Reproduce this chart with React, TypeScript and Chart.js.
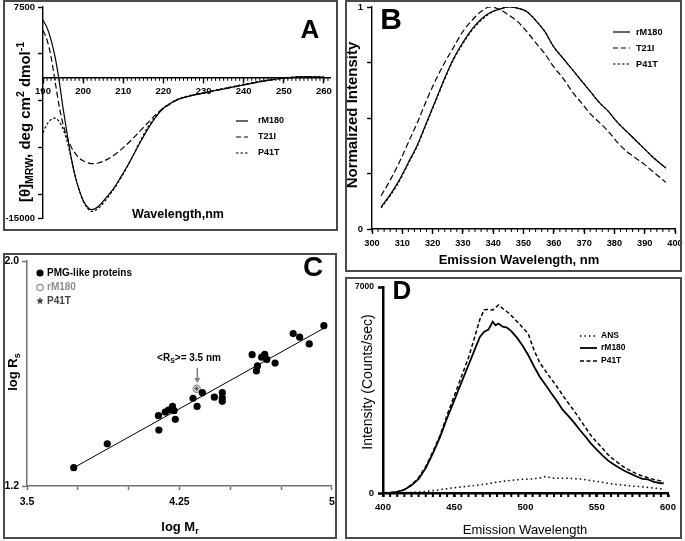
import React, { useEffect, useRef } from 'react';
import { Chart, registerables } from 'chart.js';

Chart.register(...registerables);

const FONT = '"Liberation Sans", Arial, Helvetica, sans-serif';

// ---------------- Panel A : CD spectra ----------------
const cdWavelength = [190, 191, 192, 193, 194, 195, 196, 197, 198, 199, 200, 201, 202, 203, 204, 205, 206, 207, 208, 209, 210, 212, 214, 216, 218, 220, 222, 224, 226, 228, 230, 233, 236, 240, 245, 250, 255, 260];
const cdRM180 = [6100, 5300, 4000, 2200, -300, -3300, -6000, -8500, -10500, -12000, -13100, -13800, -14100, -14000, -13700, -13200, -12700, -12200, -11600, -10900, -10200, -8700, -7100, -5600, -4300, -3300, -2700, -2300, -2050, -1850, -1700, -1400, -1150, -800, -400, -100, 50, 30];
const cdT21I = [5000, 4000, 2200, -400, -3000, -5000, -6400, -7400, -8100, -8600, -8900, -9100, -9200, -9200, -9100, -8950, -8750, -8500, -8200, -7850, -7500, -6700, -5800, -4900, -4000, -3300, -2750, -2300, -2050, -1850, -1700, -1400, -1150, -800, -400, -100, 40, 20];
const cdP41T = [-5900, -5000, -4500, -4350, -4700, -5500, -6800, -8600, -10500, -12000, -13200, -13900, -14300, -14200, -13900, -13400, -12900, -12300, -11700, -11000, -10300, -8700, -7000, -5400, -4200, -3250, -2700, -2250, -2000, -1820, -1650, -1350, -1100, -750, -350, -80, 80, 50];
const cdXTicks = [190, 200, 210, 220, 230, 240, 250, 260];
const cdXMinor = Array.from({ length: 72 }, (_, i) => 190 + i);
const cdYTicks = [7500, 2500, -2500, -7500, -12500, -15000];
const cdYLabels = [7500, -15000];

// ---------------- Panel B : Trp fluorescence ----------------
const flWavelength = [303, 306, 309, 312, 315, 318, 321, 324, 327, 330, 333, 336, 339, 342, 345, 348, 351, 354, 357, 360, 363, 366, 369, 372, 375, 378, 381, 384, 387, 390, 393, 397];
const flRM180 = [0.10, 0.155, 0.22, 0.30, 0.38, 0.48, 0.58, 0.68, 0.77, 0.84, 0.90, 0.945, 0.975, 0.99, 1.0, 0.995, 0.98, 0.94, 0.89, 0.82, 0.77, 0.72, 0.67, 0.62, 0.57, 0.53, 0.48, 0.44, 0.40, 0.36, 0.32, 0.275];
const flT21I = [0.15, 0.22, 0.30, 0.39, 0.48, 0.58, 0.67, 0.75, 0.82, 0.89, 0.94, 0.98, 1.0, 0.99, 0.965, 0.935, 0.89, 0.84, 0.79, 0.73, 0.68, 0.62, 0.57, 0.52, 0.48, 0.44, 0.39, 0.35, 0.32, 0.29, 0.255, 0.21];
const flP41T = [0.095, 0.15, 0.215, 0.295, 0.375, 0.475, 0.575, 0.675, 0.765, 0.835, 0.895, 0.94, 0.972, 0.99, 1.0, 0.995, 0.98, 0.94, 0.89, 0.82, 0.77, 0.72, 0.67, 0.62, 0.57, 0.53, 0.48, 0.44, 0.40, 0.36, 0.32, 0.275];
const flXTicks = [300, 310, 320, 330, 340, 350, 360, 370, 380, 390, 400];
const flXMinor = Array.from({ length: 51 }, (_, i) => 300 + i * 2);
const flYTicks = [0, 0.25, 0.5, 0.75, 1];
const flYLabels = [0, 1];

// ---------------- Panel C : log Rs vs log Mr ----------------
const pmgLogM = [3.730, 3.895, 4.149, 4.147, 4.180, 4.196, 4.216, 4.224, 4.230, 4.317, 4.337, 4.363, 4.422, 4.461, 4.461, 4.461, 4.608, 4.634, 4.629, 4.655, 4.670, 4.680, 4.721, 4.810, 4.842, 4.889, 4.961];
const pmgLogR = [1.265, 1.350, 1.399, 1.450, 1.463, 1.470, 1.483, 1.468, 1.437, 1.512, 1.483, 1.532, 1.516, 1.532, 1.513, 1.501, 1.667, 1.627, 1.609, 1.658, 1.668, 1.650, 1.637, 1.742, 1.729, 1.705, 1.770];
const rm180LogM = [4.335];
const rm180LogR = [1.546];
const p41tLogM = [4.335];
const p41tLogR = [1.546];
const fitLogM = [3.730, 4.961];
const fitLogR = [1.265, 1.761];
const cXTicks = [3.5, 3.75, 4.0, 4.25, 4.5, 4.75, 5.0];
const cXLabels = [3.5, 4.25, 5.0];
const cYTicks = [1.2, 2.0];

// ---------------- Panel D : ANS fluorescence ----------------
const ansWl = [400, 405, 410, 415, 420, 425, 430, 435, 440, 445, 450, 455, 460, 465, 468, 471, 474, 477, 479, 481, 484, 487, 490, 494, 498, 502, 506, 510, 514, 518, 522, 526, 530, 534, 538, 542, 546, 550, 554, 558, 562, 566, 570, 574, 578, 582, 586, 590, 594, 597];
const ansRM180 = [0, 10, 40, 110, 260, 480, 850, 1350, 1900, 2550, 3150, 3750, 4350, 4950, 5300, 5480, 5550, 5820, 5700, 5760, 5650, 5620, 5500, 5280, 5000, 4680, 4300, 3950, 3680, 3400, 3130, 2830, 2620, 2400, 2150, 1920, 1680, 1470, 1280, 1100, 970, 850, 740, 650, 560, 480, 460, 380, 340, 330];
const ansP41T = [0, 10, 40, 120, 280, 520, 900, 1400, 1950, 2650, 3300, 3950, 4600, 5400, 5900, 6230, 6240, 6220, 6300, 6390, 6270, 6160, 6030, 5830, 5620, 5400, 4850, 4430, 4150, 3880, 3620, 3330, 3060, 2800, 2520, 2230, 1950, 1730, 1520, 1300, 1130, 990, 850, 750, 650, 580, 520, 460, 420, 380];
const ansDyeWl = [400, 410, 420, 430, 440, 450, 460, 470, 480, 490, 500, 505, 510, 514, 518, 522, 530, 540, 546, 552, 558, 564, 570, 576, 582, 588, 594, 597];
const ansDye = [0, 5, 20, 50, 110, 180, 230, 290, 370, 430, 470, 480, 510, 560, 510, 500, 500, 470, 420, 380, 330, 290, 260, 230, 210, 180, 150, 140];
const dXTicks = [400, 450, 500, 550, 600];
const dXMinor = Array.from({ length: 41 }, (_, i) => 400 + i * 5);
const dYTicks = [0, 7000];

// ---------------- helpers ----------------
type Seg = { t: string; sc?: number; dy?: number };
type TextItem = { x: number; y: number; segs: Seg[]; size: number; weight?: string; color?: string; align?: 'left' | 'center' | 'right'; rot?: number };
type LegendItem = { x1: number; x2: number; y: number; dash?: number[]; lw?: number; marker?: 'dot' | 'ring' | 'star'; tx: number; text: string; tcolor?: string; size: number };

const S = (t: string, sc?: number, dy?: number): Seg => ({ t, sc, dy });
const pts = (xs: number[], ys: number[]) => xs.map((x, i) => ({ x, y: ys[i] }));
const tf = (size: number, weight = 'bold') => ({ family: FONT, size, weight });

function drawRich(ctx: CanvasRenderingContext2D, it: TextItem, ox: number, oy: number) {
  const w = it.weight || 'bold';
  let total = 0;
  const widths = it.segs.map((s) => {
    ctx.font = `${w} ${it.size * (s.sc || 1)}px ${FONT}`;
    const m = ctx.measureText(s.t).width;
    total += m;
    return m;
  });
  ctx.save();
  ctx.translate(it.x - ox, it.y - oy);
  if (it.rot) ctx.rotate(it.rot);
  let x = it.align === 'left' ? 0 : it.align === 'right' ? -total : -total / 2;
  ctx.fillStyle = it.color || '#000';
  ctx.textBaseline = 'middle';
  ctx.textAlign = 'left';
  it.segs.forEach((s, i) => {
    ctx.font = `${w} ${it.size * (s.sc || 1)}px ${FONT}`;
    ctx.fillText(s.t, x, (s.dy || 0) * it.size);
    x += widths[i];
  });
  ctx.restore();
}

function starPath(ctx: CanvasRenderingContext2D, cx: number, cy: number, r: number) {
  ctx.beginPath();
  for (let i = 0; i < 10; i++) {
    const a = -Math.PI / 2 + (i * Math.PI) / 5;
    const rr = i % 2 ? r * 0.45 : r;
    ctx.lineTo(cx + rr * Math.cos(a), cy + rr * Math.sin(a));
  }
  ctx.closePath();
}

const overlay = {
  id: 'overlay',
  afterDraw(chart: any, _a: any, o: any) {
    const ctx = chart.ctx as CanvasRenderingContext2D;
    const ox = o.ox || 0;
    const oy = o.oy || 0;
    (o.minor || []).forEach((m: any) => {
      const sc = chart.scales[m.scale];
      const base = m.atScale ? chart.scales[m.atScale].getPixelForValue(m.at) : chart.chartArea.bottom;
      ctx.save();
      ctx.strokeStyle = m.color;
      ctx.lineWidth = m.width;
      ctx.beginPath();
      m.values.forEach((v: number) => {
        const p = sc.getPixelForValue(v);
        ctx.moveTo(p, base);
        ctx.lineTo(p, base + m.len);
      });
      ctx.stroke();
      ctx.restore();
    });
    (o.arrows || []).forEach((a: any) => {
      const X = chart.scales[a.xs].getPixelForValue(a.x);
      const Y1 = chart.scales[a.ys].getPixelForValue(a.y1);
      const Y2 = chart.scales[a.ys].getPixelForValue(a.y2);
      ctx.save();
      ctx.strokeStyle = a.color;
      ctx.fillStyle = a.color;
      ctx.lineWidth = 1.5;
      ctx.beginPath();
      ctx.moveTo(X, Y1);
      ctx.lineTo(X, Y2 - 4);
      ctx.stroke();
      ctx.beginPath();
      ctx.moveTo(X - 3, Y2 - 5);
      ctx.lineTo(X + 3, Y2 - 5);
      ctx.lineTo(X, Y2);
      ctx.closePath();
      ctx.fill();
      ctx.restore();
    });
    (o.legend || []).forEach((l: LegendItem) => {
      ctx.save();
      const cy = l.y - oy;
      if (l.marker) {
        const cx = (l.x1 + l.x2) / 2 - ox;
        if (l.marker === 'dot') {
          ctx.fillStyle = '#000';
          ctx.beginPath();
          ctx.arc(cx, cy, 3.6, 0, Math.PI * 2);
          ctx.fill();
        } else if (l.marker === 'ring') {
          ctx.strokeStyle = '#8c8c8c';
          ctx.lineWidth = 1.2;
          ctx.beginPath();
          ctx.arc(cx, cy, 3.2, 0, Math.PI * 2);
          ctx.stroke();
        } else {
          ctx.fillStyle = '#444';
          starPath(ctx, cx, cy, 4);
          ctx.fill();
        }
      } else {
        ctx.strokeStyle = '#000';
        ctx.lineWidth = l.lw || 1.2;
        ctx.setLineDash(l.dash || []);
        ctx.beginPath();
        ctx.moveTo(l.x1 - ox, cy);
        ctx.lineTo(l.x2 - ox, cy);
        ctx.stroke();
      }
      ctx.restore();
      drawRich(ctx, { x: l.tx, y: l.y, segs: [S(l.text)], size: l.size, align: 'left', color: l.tcolor || '#000' }, ox, oy);
    });
    (o.texts || []).forEach((t: TextItem) => drawRich(ctx, t, ox, oy));
  },
};

const lineDs = (label: string, xs: number[], ys: number[], dash: number[], width: number, mode: string) => ({
  label,
  data: pts(xs, ys),
  showLine: true,
  borderColor: '#000',
  backgroundColor: '#000',
  borderWidth: width,
  borderDash: dash,
  pointRadius: 0,
  cubicInterpolationMode: mode,
  tension: 0,
  fill: false,
});

function baseOptions(pad: any, ov: any) {
  return {
    responsive: false,
    maintainAspectRatio: false,
    animation: false,
    events: [],
    layout: { padding: pad },
    plugins: { legend: { display: false }, tooltip: { enabled: false }, title: { display: false }, overlay: ov },
  };
}

function axis(o: any) {
  const { min, max, ticks, label, width, height, font, color, bw, tl, pad, position } = o;
  return {
    type: 'linear',
    position,
    min,
    max,
    afterBuildTicks: (s: any) => {
      s.ticks = ticks.map((v: number) => ({ value: v }));
    },
    afterFit: (s: any) => {
      if (width != null) s.width = width;
      if (height != null) s.height = height;
      s.paddingLeft = 0;
      s.paddingRight = 0;
      s.paddingTop = 0;
      s.paddingBottom = 0;
    },
    ticks: { autoSkip: false, maxRotation: 0, minRotation: 0, padding: pad, color: '#000', font, callback: label },
    grid: { drawOnChartArea: false, drawTicks: true, tickLength: tl, tickColor: color, tickWidth: bw },
    border: { display: true, color, width: bw },
  };
}

// ---------------- configs ----------------
function configA(): any {
  const ox = 3, oy = 0;
  return {
    type: 'scatter',
    data: {
      datasets: [
        lineDs('rM180', cdWavelength, cdRM180, [], 1.2, 'monotone'),
        lineDs('T21I', cdWavelength, cdT21I, [6, 3], 1.2, 'monotone'),
        lineDs('P41T', cdWavelength, cdP41T, [2.5, 2], 1.2, 'monotone'),
      ],
    },
    options: {
      ...baseOptions({ left: 0, top: 7, right: 8, bottom: 13 }, {
        ox, oy,
        minor: [{ scale: 'x', values: cdXMinor, len: 3.5, width: 1, color: '#000', atScale: 'y', at: 0 }],
        legend: [
          { x1: 236, x2: 248, y: 121, tx: 258, text: 'rM180', size: 9 },
          { x1: 236, x2: 248, y: 137, dash: [5, 3], tx: 258, text: 'T21I', size: 9 },
          { x1: 236, x2: 248, y: 153, dash: [2.5, 2], tx: 258, text: 'P41T', size: 9 },
        ],
        texts: [
          { x: 178, y: 215, segs: [S('Wavelength,nm')], size: 12.5 },
          { x: 26, y: 122, rot: -Math.PI / 2, size: 15, segs: [S('[θ]'), S('MRW', 0.7, 0.3), S(', deg cm'), S('2', 0.7, -0.35), S(' dmol'), S('-1', 0.7, -0.35)] },
          { x: 310, y: 31, segs: [S('A')], size: 26 },
        ],
      }),
      scales: {
        x: axis({ position: { y: 0 }, min: 190, max: 261.5, ticks: cdXTicks, label: (v: number) => String(v), font: tf(9.5), color: '#000', bw: 1.4, tl: 5, pad: 3 }),
        y: axis({ position: 'left', min: -15000, max: 7500, ticks: cdYTicks, label: (v: number) => (cdYLabels.includes(v) ? String(v) : ''), width: 40, font: tf(9.5), color: '#000', bw: 1.4, tl: 5, pad: 3 }),
      },
    },
    plugins: [overlay],
  };
}

function configB(): any {
  const ox = 345, oy = 0;
  return {
    type: 'scatter',
    data: {
      datasets: [
        lineDs('rM180', flWavelength, flRM180, [], 1.2, 'monotone'),
        lineDs('T21I', flWavelength, flT21I, [6, 3], 1.2, 'monotone'),
        lineDs('P41T', flWavelength, flP41T, [2.5, 2], 1.2, 'monotone'),
      ],
    },
    options: {
      ...baseOptions({ left: 0, top: 7, right: 9, bottom: 0 }, {
        ox, oy,
        minor: [{ scale: 'x', values: flXMinor, len: 3, width: 1, color: '#000' }],
        legend: [
          { x1: 613, x2: 630, y: 32, tx: 636, text: 'rM180', size: 9.2 },
          { x1: 613, x2: 630, y: 48, dash: [5, 3], tx: 636, text: 'T21I', size: 9.2 },
          { x1: 613, x2: 630, y: 64, dash: [2.5, 2], tx: 636, text: 'P41T', size: 9.2 },
        ],
        texts: [
          { x: 519, y: 260, segs: [S('Emission Wavelength, nm')], size: 13 },
          { x: 353, y: 115, rot: -Math.PI / 2, segs: [S('Normalized Intensity')], size: 15 },
          { x: 391, y: 21, segs: [S('B')], size: 30 },
        ],
      }),
      scales: {
        x: axis({ position: 'bottom', min: 300, max: 400, ticks: flXTicks, label: (v: number) => String(v), height: 43, font: tf(9.2), color: '#000', bw: 1.4, tl: 5, pad: 4 }),
        y: axis({ position: 'left', min: 0, max: 1, ticks: flYTicks, label: (v: number) => (flYLabels.includes(v) ? String(v) : ''), width: 27, font: tf(9.5), color: '#000', bw: 1.4, tl: 5, pad: 4 }),
      },
    },
    plugins: [overlay],
  };
}

function configC(): any {
  const ox = 3, oy = 253;
  return {
    type: 'scatter',
    data: {
      datasets: [
        { label: 'fit', data: pts(fitLogM, fitLogR), showLine: true, borderColor: '#000', borderWidth: 1, pointRadius: 0 },
        { label: 'PMG-like proteins', data: pts(pmgLogM, pmgLogR), showLine: false, pointRadius: 3.6, backgroundColor: '#000', borderColor: '#000', borderWidth: 0 },
        { label: 'rM180', data: pts(rm180LogM, rm180LogR), showLine: false, pointRadius: 3.6, pointStyle: 'circle', backgroundColor: 'rgba(255,255,255,0)', borderColor: '#8c8c8c', borderWidth: 1.2 },
        { label: 'P41T', data: pts(p41tLogM, p41tLogR), showLine: false, pointRadius: 2.6, pointStyle: 'star', backgroundColor: '#555', borderColor: '#555', borderWidth: 1 },
      ],
    },
    options: {
      ...baseOptions({ left: 0, top: 8, right: 4, bottom: 0 }, {
        ox, oy,
        arrows: [{ xs: 'x', ys: 'y', x: 4.338, y1: 1.62, y2: 1.566, color: '#808080' }],
        legend: [
          { x1: 40, x2: 40, y: 273, marker: 'dot', tx: 47, text: 'PMG-like proteins', size: 10 },
          { x1: 40, x2: 40, y: 287.5, marker: 'ring', tx: 47, text: 'rM180', size: 10, tcolor: '#8c8c8c' },
          { x1: 40, x2: 40, y: 301, marker: 'star', tx: 47, text: 'P41T', size: 10, tcolor: '#444' },
        ],
        texts: [
          { x: 180, y: 527, segs: [S('log M'), S('r', 0.7, 0.35)], size: 13 },
          { x: 13, y: 372, rot: -Math.PI / 2, segs: [S('log R'), S('s', 0.7, 0.35)], size: 13 },
          { x: 189, y: 358, segs: [S('<R'), S('S', 0.7, 0.35), S('>= 3.5 nm')], size: 10 },
          { x: 313, y: 268, segs: [S('C')], size: 28 },
        ],
      }),
      scales: {
        x: axis({ position: 'bottom', min: 3.5, max: 5, ticks: cXTicks, label: (v: number) => (cXLabels.includes(v) ? (v === 5 ? '5' : String(v)) : ''), height: 53, font: tf(10.5), color: '#707070', bw: 1.5, tl: 4, pad: 6 }),
        y: axis({ position: 'left', min: 1.2, max: 2.0, ticks: cYTicks, label: (v: number) => v.toFixed(1), width: 24, font: tf(10.5), color: '#707070', bw: 1.5, tl: 5, pad: 3 }),
      },
    },
    plugins: [overlay],
  };
}

function configD(): any {
  const ox = 345, oy = 277;
  return {
    type: 'scatter',
    data: {
      datasets: [
        lineDs('ANS', ansDyeWl, ansDye, [1.5, 3], 1.5, 'default'),
        lineDs('rM180', ansWl, ansRM180, [], 1.8, 'default'),
        lineDs('P41T', ansWl, ansP41T, [4, 2.5], 1.5, 'default'),
      ],
    },
    options: {
      ...baseOptions({ left: 0, top: 10, right: 14, bottom: 0 }, {
        ox, oy,
        minor: [{ scale: 'x', values: dXMinor, len: 4, width: 2, color: '#000' }],
        legend: [
          { x1: 580, x2: 597, y: 336, dash: [1.5, 3], lw: 1.5, tx: 601, text: 'ANS', size: 8.5 },
          { x1: 580, x2: 597, y: 348, lw: 1.8, tx: 601, text: 'rM180', size: 8.5 },
          { x1: 580, x2: 597, y: 361, dash: [4, 2.5], lw: 1.5, tx: 601, text: 'P41T', size: 8.5 },
        ],
        texts: [
          { x: 525, y: 530, segs: [S('Emission Wavelength')], size: 13, weight: 'normal' },
          { x: 368, y: 382, rot: -Math.PI / 2, segs: [S('Intensity (Counts/sec)')], size: 14, weight: 'normal' },
          { x: 402, y: 292, segs: [S('D')], size: 26 },
        ],
      }),
      scales: {
        x: axis({ position: 'bottom', min: 400, max: 600, ticks: dXTicks, label: (v: number) => String(v), height: 46, font: tf(9.5), color: '#000', bw: 2.5, tl: 4, pad: 5 }),
        y: {
          ...axis({ position: 'left', min: 0, max: 7000, ticks: dYTicks, label: (v: number) => String(v), width: 38, font: tf(9.5), color: '#000', bw: 2.5, tl: 5, pad: 4 }),
        },
      },
    },
    plugins: [overlay],
  };
}

// canvas (cw/ch) may be slightly larger than the bordered frame (w/h) so labels can touch the frame
const PANELS = [
  { key: 'A', left: 3, top: 0, w: 335, h: 231, cw: 335, make: configA },
  { key: 'B', left: 345, top: 0, w: 337, h: 272, cw: 339, make: configB },
  { key: 'C', left: 3, top: 253, w: 334, h: 286, cw: 334, make: configC },
  { key: 'D', left: 345, top: 277, w: 337, h: 262, cw: 337, make: configD },
];

export default function App() {
  const refs = useRef<(HTMLCanvasElement | null)[]>([]);
  useEffect(() => {
    document.body.style.margin = '0';
    const charts: Chart[] = [];
    PANELS.forEach((p, i) => {
      const c = refs.current[i];
      if (!c) return;
      const cfg = p.make();
      if (p.key === 'D') {
        cfg.options.scales.y.ticks.font = (ctx: any) => (ctx.tick && ctx.tick.value === 7000 ? tf(8.5) : tf(9.5));
      }
      charts.push(new Chart(c, cfg));
    });
    return () => charts.forEach((c) => c.destroy());
  }, []);
  return (
    <div style={{ position: 'absolute', left: 0, top: 0, width: 685, height: 541, background: '#fff', overflow: 'hidden' }}>
      {PANELS.map((p, i) => (
        <React.Fragment key={p.key}>
          <canvas
            ref={(el) => {
              refs.current[i] = el;
            }}
            width={p.cw}
            height={p.h}
            style={{ position: 'absolute', left: p.left, top: p.top, width: p.cw, height: p.h }}
          />
          <div
            style={{
              position: 'absolute',
              left: p.left,
              top: p.top,
              width: p.w,
              height: p.h,
              border: '2px solid #4a4a4a',
              boxSizing: 'border-box',
              pointerEvents: 'none',
            }}
          />
        </React.Fragment>
      ))}
    </div>
  );
}
